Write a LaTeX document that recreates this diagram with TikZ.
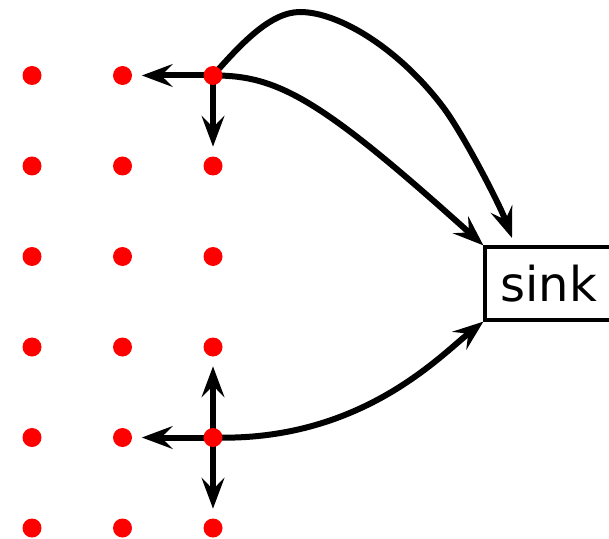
\documentclass[tikz,border=0pt]{standalone}
\usepackage{fontspec}
\newfontfamily\sinkfont{DejaVu Sans}
\usetikzlibrary{arrows.meta,backgrounds}
\begin{document}
\begin{tikzpicture}[x=0.75pt,y=-0.75pt,
  dot/.style={circle,fill=red,inner sep=0pt,minimum size=14.25pt},
  link/.style={line width=4.5pt,-{Stealth[length=23pt,width=17pt,inset=8.5pt]}},
  short/.style={link,shorten >=14.5pt},
  sinkbox/.style={draw,line width=2.4pt,minimum width=95.25pt,minimum height=54.75pt,inner sep=0pt,font=\sinkfont\fontsize{36}{40}\selectfont}]
\useasboundingbox (0,0) rectangle (609,538);
\foreach \c/\x in {1/32,2/122.5,3/213}{
  \foreach \r/\y in {1/75.5,2/166,3/256.5,4/347,5/437.5,6/528}{
    \node[dot] (d\r\c) at (\x,\y) {};
  }
}
\node[sinkbox] (sink) at (548.5,283.5) {sink};
\coordinate (tipc) at (512,238);
\begin{scope}[on background layer]
  \draw[short] (d13.center) -- (d12.center);
  \draw[short] (d13.center) -- (d23.center);
  \draw[link] (d13.center) .. controls (278,75) and (322,100) .. (sink.north west);
  \draw[link] (d13.center) .. controls (240,45) and (270,12) .. (300,12)
     .. controls (340,12) and (400,50) .. (443,107)
     .. controls (463,133.5) and (500,205) .. (tipc);
  \draw[short] (d53.center) -- (d52.center);
  \draw[short] (d53.center) -- (d43.center);
  \draw[short] (d53.center) -- (d63.center);
  \draw[link] (d53.center) .. controls (360,442) and (440,356) .. (sink.south west);
\end{scope}
\end{tikzpicture}
\end{document}
